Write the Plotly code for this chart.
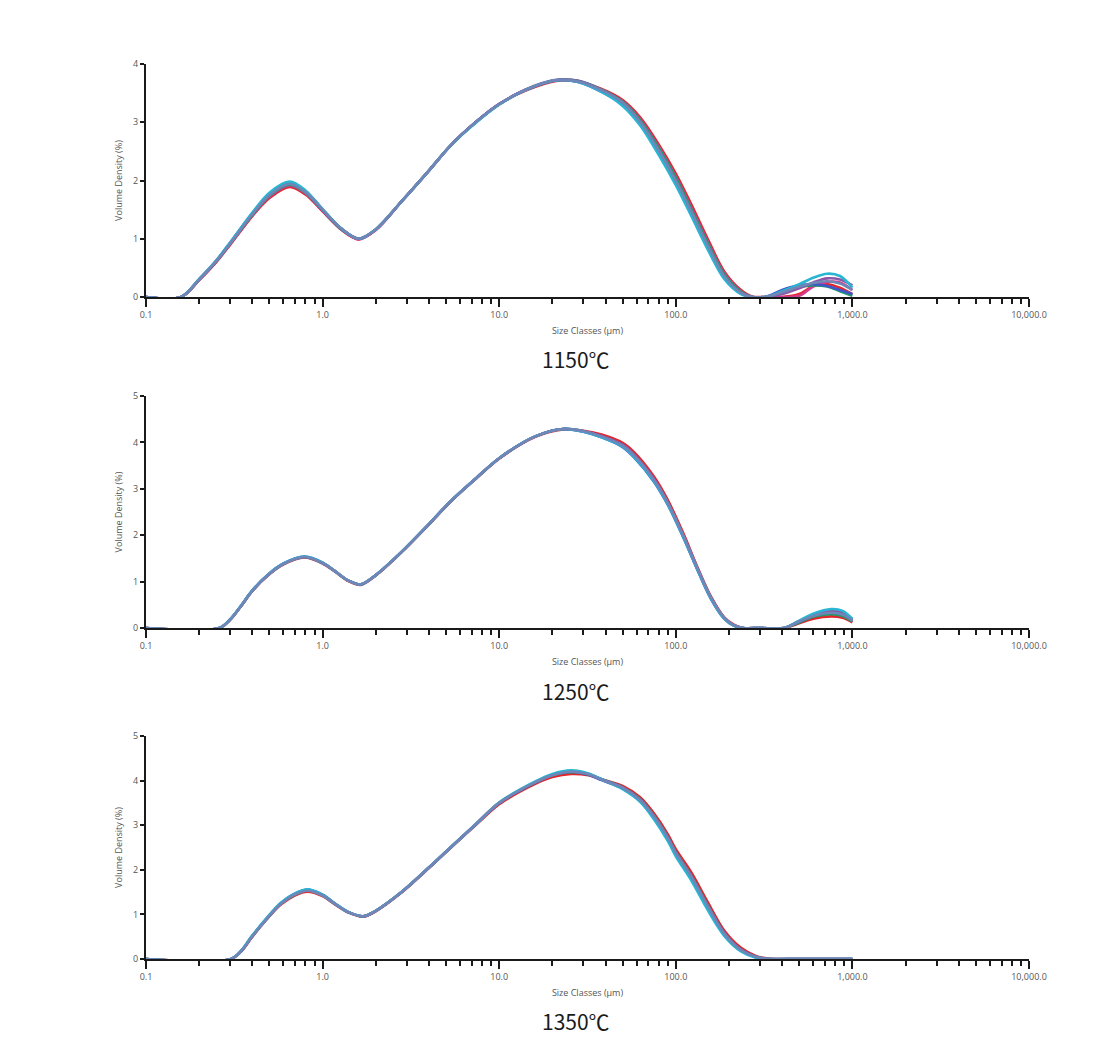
import plotly.graph_objects as go

# ---------------- data ----------------
X_TICKS = [0.1, 1, 10, 100, 1000, 10000]
X_TICK_TEXT = ["0.1", "1.0", "10.0", "100.0", "1,000.0", "10,000.0"]
X_MINOR = [0.2, 0.3, 0.4, 0.5, 0.6, 0.7, 0.8, 0.9,
           2, 3, 4, 5, 6, 7, 8, 9,
           20, 30, 40, 50, 60, 70, 80, 90,
           200, 300, 400, 500, 600, 700, 800, 900,
           2000, 3000, 4000, 5000, 6000, 7000, 8000, 9000]
CAPTIONS = ["1150℃", "1250℃", "1350℃"]
Y_MAX = [4, 5, 5]
SERIES_NAMES = ["Red", "Magenta", "Green", "Blue", "Purple", "Cyan", "Steel"]
SERIES_COLORS = ["#e3262c", "#d43b8e", "#1e9a6c", "#3f55c9", "#8a57a9", "#28b6d3", "#6f86b6"]

# 1150 C
P1_X = [0.1, 0.158, 0.2, 0.25, 0.3, 0.4, 0.5, 0.65, 0.8, 1.0,
        1.27, 1.6, 2.0, 2.8, 4.0, 5.3, 7.5, 10, 14, 21,
        28, 38, 50, 63, 80, 100, 122, 152, 188, 234,
        270, 320, 400, 500, 600, 720, 850, 1000]
P1_RED = [0, 0, 0.29, 0.6, 0.9, 1.39, 1.7, 1.89, 1.76, 1.47,
          1.16, 0.99, 1.15, 1.64, 2.17, 2.6, 3.02, 3.31, 3.54, 3.71,
          3.7, 3.57, 3.38, 3.08, 2.62, 2.12, 1.6, 0.99, 0.44, 0.12,
          0.01, 0, 0, 0.05, 0.19, 0.22, 0.16, 0.05]
P1_MAGENTA = [0, 0, 0.3, 0.61, 0.91, 1.4, 1.72, 1.91, 1.78, 1.48,
              1.17, 0.99, 1.15, 1.64, 2.17, 2.6, 3.02, 3.31, 3.55, 3.72,
              3.7, 3.56, 3.36, 3.05, 2.58, 2.07, 1.55, 0.95, 0.41, 0.1,
              0, 0, 0, 0.02, 0.18, 0.26, 0.25, 0.12]
P1_GREEN = [0, 0, 0.3, 0.61, 0.92, 1.41, 1.74, 1.93, 1.79, 1.49,
            1.17, 1.0, 1.16, 1.64, 2.17, 2.6, 3.02, 3.31, 3.55, 3.72,
            3.71, 3.56, 3.35, 3.03, 2.56, 2.05, 1.52, 0.92, 0.39, 0.09,
            0, 0, 0.08, 0.17, 0.2, 0.18, 0.1, 0.02]
P1_BLUE = [0, 0, 0.3, 0.62, 0.93, 1.43, 1.77, 1.96, 1.81, 1.5,
           1.18, 1.0, 1.16, 1.64, 2.17, 2.6, 3.02, 3.31, 3.55, 3.72,
           3.69, 3.52, 3.3, 2.96, 2.47, 1.95, 1.43, 0.84, 0.33, 0.06,
           0, 0, 0.12, 0.2, 0.22, 0.19, 0.12, 0.05]
P1_PURPLE = [0, 0, 0.3, 0.62, 0.93, 1.43, 1.76, 1.95, 1.81, 1.5,
             1.18, 1.0, 1.16, 1.64, 2.17, 2.6, 3.02, 3.31, 3.56, 3.73,
             3.71, 3.55, 3.33, 3.0, 2.51, 1.99, 1.46, 0.86, 0.35, 0.07,
             0, 0, 0.05, 0.15, 0.25, 0.32, 0.3, 0.2]
P1_CYAN = [0, 0, 0.31, 0.63, 0.94, 1.45, 1.79, 1.98, 1.83, 1.51,
           1.18, 1.0, 1.16, 1.64, 2.17, 2.6, 3.01, 3.3, 3.55, 3.72,
           3.69, 3.52, 3.28, 2.94, 2.44, 1.92, 1.4, 0.81, 0.31, 0.05,
           0, 0, 0.1, 0.22, 0.33, 0.4, 0.36, 0.16]
P1_STEEL = [0, 0, 0.3, 0.62, 0.92, 1.42, 1.75, 1.94, 1.8, 1.5,
            1.18, 1.0, 1.16, 1.64, 2.17, 2.6, 3.02, 3.31, 3.55, 3.72,
            3.7, 3.55, 3.34, 3.0, 2.52, 2.0, 1.48, 0.88, 0.36, 0.07,
            0, 0, 0.08, 0.18, 0.24, 0.27, 0.23, 0.12]

# 1250 C
P2_X = [0.1, 0.26, 0.3, 0.345, 0.4, 0.49, 0.6, 0.79, 1.0, 1.17,
        1.4, 1.65, 2.0, 2.8, 4.0, 5.3, 7.5, 10, 16, 23,
        30, 38, 50, 58, 75, 90, 110, 133, 158, 188,
        213, 240, 300, 410, 500, 600, 760, 880, 1000]
P2_RED = [0, 0, 0.18, 0.47, 0.8, 1.13, 1.37, 1.52, 1.39, 1.22,
          1.01, 0.93, 1.13, 1.63, 2.23, 2.72, 3.24, 3.65, 4.12, 4.28,
          4.25, 4.17, 3.99, 3.79, 3.27, 2.76, 2.05, 1.3, 0.68, 0.23,
          0.07, 0, 0, 0, 0.1, 0.2, 0.25, 0.22, 0.12]
P2_GREEN = [0, 0, 0.18, 0.47, 0.8, 1.14, 1.38, 1.53, 1.4, 1.23,
            1.02, 0.94, 1.14, 1.64, 2.24, 2.73, 3.25, 3.66, 4.13, 4.29,
            4.24, 4.12, 3.92, 3.71, 3.19, 2.69, 1.99, 1.26, 0.65, 0.21,
            0.05, 0, 0, 0, 0.12, 0.24, 0.3, 0.26, 0.14]
P2_BLUE = [0, 0, 0.19, 0.48, 0.81, 1.15, 1.39, 1.54, 1.41, 1.23,
           1.02, 0.94, 1.14, 1.64, 2.24, 2.73, 3.25, 3.66, 4.13, 4.29,
           4.23, 4.11, 3.9, 3.68, 3.16, 2.66, 1.96, 1.24, 0.63, 0.2,
           0.05, 0, 0, 0, 0.14, 0.27, 0.34, 0.3, 0.16]
P2_PURPLE = [0, 0, 0.18, 0.47, 0.8, 1.14, 1.38, 1.53, 1.4, 1.23,
             1.02, 0.94, 1.14, 1.64, 2.24, 2.73, 3.25, 3.66, 4.13, 4.29,
             4.24, 4.14, 3.95, 3.74, 3.22, 2.71, 2.01, 1.28, 0.66, 0.22,
             0.06, 0, 0, 0, 0.15, 0.28, 0.37, 0.33, 0.18]
P2_CYAN = [0, 0, 0.19, 0.48, 0.81, 1.15, 1.39, 1.54, 1.41, 1.23,
           1.02, 0.94, 1.14, 1.64, 2.24, 2.73, 3.25, 3.66, 4.13, 4.29,
           4.23, 4.11, 3.91, 3.69, 3.17, 2.67, 1.97, 1.25, 0.64, 0.2,
           0.05, 0, 0, 0, 0.16, 0.31, 0.41, 0.37, 0.2]
P2_STEEL = [0, 0, 0.18, 0.47, 0.8, 1.14, 1.38, 1.53, 1.4, 1.23,
            1.02, 0.94, 1.14, 1.64, 2.24, 2.73, 3.25, 3.66, 4.13, 4.29,
            4.24, 4.13, 3.93, 3.72, 3.2, 2.7, 2.0, 1.27, 0.66, 0.22,
            0.06, 0, 0, 0, 0.14, 0.26, 0.33, 0.29, 0.16]

# 1350 C
P3_X = [0.1, 0.303, 0.35, 0.393, 0.48, 0.58, 0.7, 0.82, 1.0, 1.17,
        1.4, 1.7, 2.0, 2.8, 4.0, 5.3, 7.5, 10, 16, 20,
        25.5, 32, 38, 50, 63, 75, 90, 100, 122, 152,
        188, 234, 284, 331, 500, 1000]
P3_RED = [0, 0, 0.19, 0.46, 0.88, 1.22, 1.43, 1.51, 1.41, 1.23,
          1.04, 0.95, 1.07, 1.49, 2.04, 2.49, 3.03, 3.47, 3.93, 4.08,
          4.15, 4.12, 4.03, 3.88, 3.62, 3.27, 2.8, 2.46, 1.95, 1.27,
          0.64, 0.25, 0.07, 0.01, 0, 0]
P3_GREEN = [0, 0, 0.2, 0.47, 0.89, 1.24, 1.45, 1.54, 1.43, 1.24,
            1.05, 0.96, 1.08, 1.5, 2.05, 2.5, 3.05, 3.5, 3.96, 4.12,
            4.19, 4.14, 4.03, 3.85, 3.58, 3.22, 2.74, 2.4, 1.88, 1.2,
            0.59, 0.21, 0.05, 0, 0, 0]
P3_BLUE = [0, 0, 0.21, 0.48, 0.9, 1.25, 1.47, 1.55, 1.44, 1.25,
           1.05, 0.96, 1.08, 1.5, 2.05, 2.5, 3.05, 3.5, 3.96, 4.13,
           4.2, 4.13, 4.01, 3.82, 3.54, 3.17, 2.69, 2.34, 1.82, 1.14,
           0.55, 0.19, 0.04, 0, 0, 0]
P3_PURPLE = [0, 0, 0.2, 0.47, 0.89, 1.24, 1.46, 1.54, 1.43, 1.24,
             1.05, 0.96, 1.08, 1.5, 2.05, 2.5, 3.05, 3.5, 3.96, 4.12,
             4.2, 4.15, 4.03, 3.85, 3.57, 3.21, 2.73, 2.39, 1.87, 1.19,
             0.59, 0.21, 0.05, 0.01, 0, 0]
P3_CYAN = [0, 0, 0.21, 0.49, 0.91, 1.26, 1.47, 1.56, 1.44, 1.25,
           1.05, 0.96, 1.08, 1.5, 2.05, 2.5, 3.05, 3.51, 3.98, 4.15,
           4.23, 4.16, 4.03, 3.81, 3.52, 3.14, 2.65, 2.3, 1.77, 1.09,
           0.52, 0.17, 0.03, 0, 0, 0]
P3_STEEL = [0, 0, 0.2, 0.47, 0.89, 1.24, 1.45, 1.53, 1.42, 1.24,
            1.05, 0.96, 1.08, 1.5, 2.05, 2.5, 3.05, 3.5, 3.96, 4.12,
            4.2, 4.14, 4.02, 3.84, 3.56, 3.2, 2.72, 2.38, 1.86, 1.18,
            0.57, 0.2, 0.05, 0, 0, 0]

PANELS = [
    (P1_X, {"Red": P1_RED, "Magenta": P1_MAGENTA, "Green": P1_GREEN, "Blue": P1_BLUE,
            "Purple": P1_PURPLE, "Cyan": P1_CYAN, "Steel": P1_STEEL}),
    (P2_X, {"Red": P2_RED, "Green": P2_GREEN, "Blue": P2_BLUE,
            "Purple": P2_PURPLE, "Cyan": P2_CYAN, "Steel": P2_STEEL}),
    (P3_X, {"Red": P3_RED, "Green": P3_GREEN, "Blue": P3_BLUE,
            "Purple": P3_PURPLE, "Cyan": P3_CYAN, "Steel": P3_STEEL}),
]

# ---------------- layout geometry ----------------
W, H = 1102, 1044
PAGE_OFFSET = 7  # page body margin shifts the figure
X_DOMAIN = [(145 - PAGE_OFFSET) / W, (1028 - PAGE_OFFSET) / W]
# (top px, bottom px) of each plot area, in screen pixels
PANEL_PX = [(63, 296), (395, 627), (735, 958)]
CAPTION_PX = [358, 690, 1020]

TICK_FONT = dict(family="Open Sans, DejaVu Sans, sans-serif", size=9, color="#555555")
TITLE_FONT = dict(family="Open Sans, DejaVu Sans, sans-serif", size=9, color="#555555")

fig = go.Figure()
for i, (xs, series) in enumerate(PANELS):
    ax = "" if i == 0 else str(i + 1)
    for name, color in zip(SERIES_NAMES, SERIES_COLORS):
        if name not in series:
            continue
        fig.add_trace(go.Scatter(
            x=xs, y=series[name], mode="lines", name=name,
            line=dict(color=color, width=2.6, shape="spline", smoothing=0.9),
            xaxis="x" + ax, yaxis="y" + ax, showlegend=False,
            hoverinfo="skip"))

layout = dict(
    width=W, height=H,
    margin=dict(l=0, r=0, t=0, b=0, pad=0, autoexpand=False),
    paper_bgcolor="white", plot_bgcolor="white",
    showlegend=False,
    annotations=[],
)
for i in range(3):
    ax = "" if i == 0 else str(i + 1)
    top, bot = PANEL_PX[i]
    top -= PAGE_OFFSET
    bot -= PAGE_OFFSET
    layout["xaxis" + ax] = dict(
        type="log", range=[-1, 4], domain=X_DOMAIN,
        anchor="y" + ax, automargin=False,
        showgrid=False, zeroline=False,
        showline=True, linecolor="#1a1a1a", linewidth=2,
        ticks="outside", ticklen=8, tickwidth=2, tickcolor="#1a1a1a",
        tickmode="array", tickvals=X_TICKS, ticktext=X_TICK_TEXT,
        tickfont=TICK_FONT,
        minor=dict(tickmode="array", tickvals=X_MINOR, ticks="outside",
                   ticklen=5, tickwidth=1.5, tickcolor="#1a1a1a", showgrid=False),
        title=dict(text="Size Classes (µm)", font=TITLE_FONT, standoff=8),
    )
    layout["yaxis" + ax] = dict(
        range=[0, Y_MAX[i]], domain=[1 - bot / H, 1 - top / H],
        anchor="x" + ax, automargin=False,
        showgrid=False, zeroline=False,
        showline=True, linecolor="#1a1a1a", linewidth=2,
        ticks="outside", ticklen=4, tickwidth=2, tickcolor="#1a1a1a",
        tickmode="linear", tick0=0, dtick=1,
        tickfont=TICK_FONT,
        title=dict(text="Volume Density (%)", font=TITLE_FONT, standoff=9),
    )
    layout["annotations"].append(dict(
        text=CAPTIONS[i], xref="paper", yref="paper",
        x=(575 - PAGE_OFFSET) / W, y=1 - (CAPTION_PX[i] - PAGE_OFFSET) / H,
        xanchor="center", yanchor="middle",
        showarrow=False,
        font=dict(family="Noto Sans CJK KR, Noto Sans, sans-serif", size=21, color="#1a1a1a"),
    ))

fig.update_layout(**layout)
fig.write_html("out.html")
